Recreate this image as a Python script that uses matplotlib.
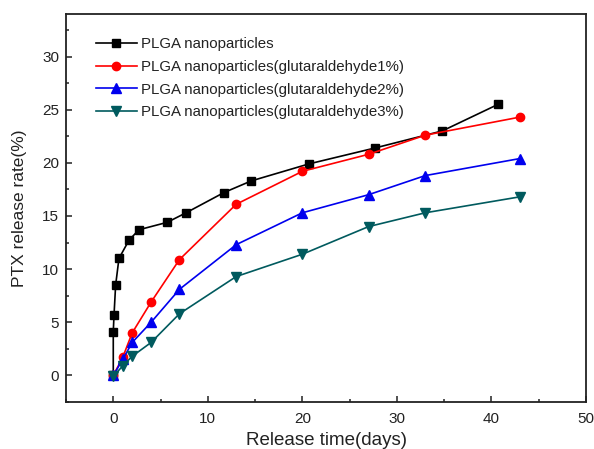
import matplotlib
matplotlib.use("Agg")
import matplotlib.pyplot as plt
from matplotlib.ticker import MultipleLocator

plt.rcParams['font.family'] = ['Liberation Sans', 'DejaVu Sans']

# release time (days) and PTX release (%)
t_plga = [0, 0, 0.08, 0.25, 0.6, 1.65, 2.7, 5.7, 7.7, 11.7, 14.6, 20.7, 27.7, 34.8, 40.7]
r_plga = [0, 4.1, 5.7, 8.5, 11.0, 12.7, 13.7, 14.4, 15.3, 17.2, 18.3, 19.9, 21.4, 23.0, 25.5]

t_glu = [0, 1, 2, 4, 7, 13, 20, 27, 33, 43]
r_glu1 = [0, 1.7, 4.0, 6.9, 10.9, 16.1, 19.2, 20.8, 22.6, 24.3]
r_glu2 = [0, 1.5, 3.1, 5.0, 8.1, 12.3, 15.3, 17.0, 18.8, 20.4]
r_glu3 = [-0.1, 0.9, 1.8, 3.1, 5.8, 9.3, 11.4, 14.0, 15.3, 16.8]

labels = ["PLGA nanoparticles",
          "PLGA nanoparticles(glutaraldehyde1%)",
          "PLGA nanoparticles(glutaraldehyde2%)",
          "PLGA nanoparticles(glutaraldehyde3%)"]

fig = plt.figure(figsize=(5.94, 4.49), dpi=100)
ax = fig.add_axes([66/594, 1-402/449, 520/594, 388/449])

lw = 1.2
ax.plot(t_plga, r_plga, color='black', lw=lw, marker='s', markersize=5.5, label=labels[0])
ax.plot(t_glu, r_glu1, color='#ff0000', lw=lw, marker='o', markersize=6, label=labels[1])
ax.plot(t_glu, r_glu2, color='#0000ee', lw=lw, marker='^', markersize=7, label=labels[2])
ax.plot(t_glu, r_glu3, color='#005a5e', lw=lw, marker='v', markersize=7, label=labels[3])

ax.set_xlim(-5, 50)
ax.set_ylim(-2.5, 34)
ax.xaxis.set_major_locator(MultipleLocator(10))
ax.xaxis.set_minor_locator(MultipleLocator(5))
ax.yaxis.set_major_locator(MultipleLocator(5))
ax.yaxis.set_minor_locator(MultipleLocator(2.5))
ax.tick_params(which='both', direction='in', top=False, right=False, width=1.1, colors='#222222')
ax.tick_params(which='major', length=4.5, labelsize=11, labelcolor='#222222')
ax.tick_params(which='minor', length=2.5)
ax.tick_params(axis='x', pad=7)
ax.tick_params(axis='y', pad=5)
for s in ax.spines.values():
    s.set_linewidth(1.3)
    s.set_color('#222222')

ax.set_xlabel("Release time(days)", fontsize=13.5, color='#222222')
ax.set_ylabel("PTX release rate(%)", fontsize=12.5, color='#222222')
ax.xaxis.set_label_coords(0.5, -0.078)
ax.yaxis.set_label_coords(-0.075, 0.5)

ax.legend(loc='upper left', bbox_to_anchor=(0.058, 0.94), frameon=False,
          fontsize=10.8, handlelength=2.7, handletextpad=0.3, labelspacing=0.58,
          borderpad=0, borderaxespad=0, labelcolor='#222222')

fig.savefig("out.png", dpi=100)
